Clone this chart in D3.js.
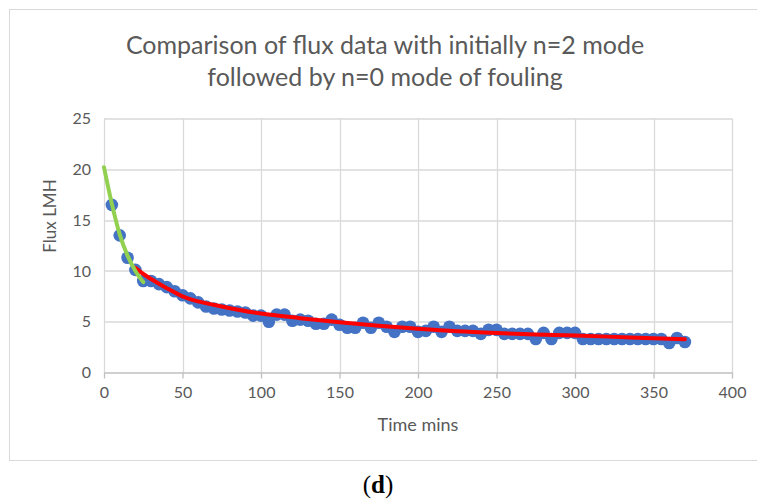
<!DOCTYPE html>
<html>
<head>
<meta charset="utf-8">
<script src="https://cdn.jsdelivr.net/npm/d3@7"></script>
<style>
  body { margin: 0; background: #fff; }
  svg { display: block; }
</style>
</head>
<body>
<div id="chart"></div>
<script>
// Flux decline: measured data vs n=2 (early) and n=0 (late) fouling models

const timeMins = [5, 10, 15, 20, 25, 30, 35, 40, 45, 50, 55, 60, 65, 70, 75, 80, 85, 90, 95, 100,
    105, 110, 115, 120, 125, 130, 135, 140, 145, 150, 155, 160, 165, 170, 175, 180, 185, 190, 195, 200,
    205, 210, 215, 220, 225, 230, 235, 240, 245, 250, 255, 260, 265, 270, 275, 280, 285, 290, 295, 300,
    305, 310, 315, 320, 325, 330, 335, 340, 345, 350, 355, 360, 365, 370];
const fluxMeasured = [16.5, 13.5, 11.3, 10.1, 9.0, 9.0, 8.7, 8.4, 8.0, 7.6, 7.3, 6.9, 6.5, 6.3, 6.2, 6.1, 6.0, 5.9, 5.6, 5.6,
    5.0, 5.7, 5.7, 5.1, 5.2, 5.1, 4.8, 4.8, 5.2, 4.7, 4.4, 4.4, 4.9, 4.4, 4.9, 4.5, 4.0, 4.5, 4.5, 4.0,
    4.1, 4.5, 4.0, 4.5, 4.1, 4.1, 4.1, 3.8, 4.2, 4.2, 3.8, 3.8, 3.8, 3.8, 3.3, 3.9, 3.3, 3.9, 3.9, 3.9,
    3.3, 3.3, 3.3, 3.3, 3.3, 3.3, 3.3, 3.3, 3.3, 3.3, 3.3, 2.9, 3.4, 3.0];

// n=2 model (green)
const n2Time = [0, 5, 10, 15, 20, 25];
const n2Flux = [20.2, 16.6, 13.6, 11.5, 10.0, 8.9];

// n=0 model (red)
const n0Time = [20, 25, 30, 40, 50, 60, 75, 100, 125, 150, 175, 200, 225, 250, 275, 300, 335, 370];
const n0Flux = [10.3, 9.7, 9.2, 8.3, 7.5, 7.0, 6.5, 5.8, 5.35, 4.95, 4.6, 4.3, 4.05, 3.88, 3.75, 3.65, 3.45, 3.27];

const xTicks = [0, 50, 100, 150, 200, 250, 300, 350, 400];
const yTicks = [0, 5, 10, 15, 20, 25];

const W = 757, H = 502;
const margin = { top: 118.5, right: 25, bottom: 129.5, left: 104 };
const plotW = W - margin.left - margin.right;
const plotH = H - margin.top - margin.bottom;

const textColor = '#595959';
const gridColor = '#d9d9d9';
const font = 'Lato, "Open Sans", sans-serif';

const svg = d3.select('#chart').append('svg')
    .attr('width', W)
    .attr('height', H);

// chart frame
svg.append('rect')
    .attr('x', 9.5).attr('y', 9.5)
    .attr('width', 760).attr('height', 451)
    .attr('fill', '#fff')
    .attr('stroke', gridColor)
    .attr('stroke-width', 1);

// title
const title = svg.append('text')
    .attr('text-anchor', 'middle')
    .style('font-family', font)
    .style('font-size', '25px')
    .style('fill', textColor);
title.append('tspan').attr('x', 385).attr('y', 54).text('Comparison of flux data with initially n=2 mode');
title.append('tspan').attr('x', 385).attr('y', 86).text('followed by n=0 mode of fouling');

const g = svg.append('g')
    .attr('transform', `translate(${margin.left},${margin.top})`);

const x = d3.scaleLinear().domain([0, 400]).range([0, plotW]);
const y = d3.scaleLinear().domain([0, 25]).range([plotH, 0]);

// gridlines
g.append('g')
    .selectAll('line')
    .data(yTicks.slice(1))
    .enter().append('line')
    .attr('x1', 0).attr('x2', plotW)
    .attr('y1', d => Math.round(y(d)) + 0.5)
    .attr('y2', d => Math.round(y(d)) + 0.5)
    .attr('stroke', gridColor)
    .attr('stroke-width', 1.3);

g.append('g')
    .selectAll('line')
    .data(xTicks)
    .enter().append('line')
    .attr('x1', d => Math.round(x(d)) + 0.5)
    .attr('x2', d => Math.round(x(d)) + 0.5)
    .attr('y1', 0).attr('y2', plotH)
    .attr('stroke', gridColor)
    .attr('stroke-width', 1.3);

// x axis
const xAxis = g.append('g')
    .attr('transform', `translate(0,${plotH})`)
    .call(d3.axisBottom(x).tickValues(xTicks).tickSize(6).tickSizeOuter(0).tickPadding(8));
xAxis.select('.domain').attr('stroke', '#bfbfbf').attr('stroke-width', 1.3);
xAxis.selectAll('.tick line').attr('stroke', '#bfbfbf').attr('stroke-width', 1.3);
xAxis.selectAll('text')
    .style('font-family', font)
    .style('font-size', '16px')
    .style('fill', textColor);

// y axis labels only
const yAxis = g.append('g')
    .call(d3.axisLeft(y).tickValues(yTicks).tickSize(0).tickPadding(13));
yAxis.select('.domain').remove();
yAxis.selectAll('text')
    .style('font-family', font)
    .style('font-size', '16px')
    .style('fill', textColor);

// axis titles
svg.append('text')
    .attr('x', margin.left + plotW / 2)
    .attr('y', 431)
    .attr('text-anchor', 'middle')
    .style('font-family', font)
    .style('font-size', '18px')
    .style('fill', textColor)
    .text('Time mins');

svg.append('text')
    .attr('transform', `translate(56,216) rotate(-90)`)
    .attr('text-anchor', 'middle')
    .style('font-family', font)
    .style('font-size', '17px')
    .style('fill', textColor)
    .text('Flux LMH');

// measured points
const points = timeMins.map((t, i) => ({ t: t, f: fluxMeasured[i] }));
g.append('g')
    .selectAll('circle')
    .data(points)
    .enter().append('circle')
    .attr('cx', d => x(d.t))
    .attr('cy', d => y(d.f))
    .attr('r', 6.3)
    .attr('fill', '#4472c4');

// model lines
const line = d3.line()
    .x(d => x(d[0]))
    .y(d => y(d[1]))
    .curve(d3.curveMonotoneX);

g.append('path')
    .datum(n0Time.map((t, i) => [t, n0Flux[i]]))
    .attr('d', line)
    .attr('fill', 'none')
    .attr('stroke', '#ff0000')
    .attr('stroke-width', 4)
    .attr('stroke-linecap', 'round');

g.append('path')
    .datum(n2Time.map((t, i) => [t, n2Flux[i]]))
    .attr('d', line)
    .attr('fill', 'none')
    .attr('stroke', '#92d050')
    .attr('stroke-width', 4)
    .attr('stroke-linecap', 'round');

// panel label
svg.append('text')
    .attr('x', 378)
    .attr('y', 493)
    .attr('text-anchor', 'middle')
    .style('font-family', '"Liberation Serif", serif')
    .style('font-size', '25px')
    .style('fill', '#000')
    .html('(<tspan font-weight="bold">d</tspan>)');
</script>
</body>
</html>
